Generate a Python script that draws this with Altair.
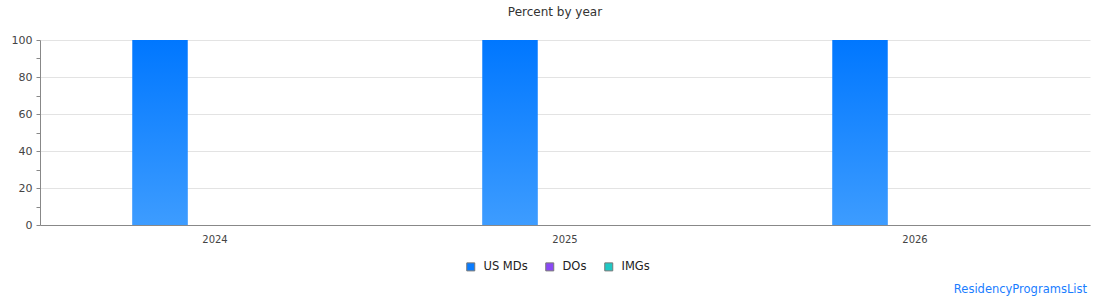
import altair as alt
import pandas as pd

# Share of matched applicants by year and applicant group
years = ["2024", "2025", "2026"]
groups = ["US MDs", "DOs", "IMGs"]
us_mds = [100, 100, 100]
dos = [0, 0, 0]
imgs = [0, 0, 0]
group_colors = ["#0a7cff", "#8a48f5", "#1fc8c4"]

rows = []
for i, y in enumerate(years):
    for g, vals in zip(groups, [us_mds, dos, imgs]):
        rows.append({"year": y, "group": g, "percent": vals[i]})
df = pd.DataFrame(rows)

W, H = 1050, 185
FONT = "DejaVu Sans"

x_enc = alt.X(
    "year:N",
    sort=years,
    scale=alt.Scale(paddingInner=0.5286, paddingOuter=0.2643),
    axis=alt.Axis(
        title=None, labelAngle=0, ticks=False, labelPadding=9,
        labelFontSize=10, labelColor="#444", domainColor="#888",
        labelFont=FONT,
    ),
)
xoff_enc = alt.XOffset("group:N", sort=groups)
y_enc = alt.Y(
    "percent:Q",
    scale=alt.Scale(domain=[0, 100], nice=False),
    axis=alt.Axis(
        title=None,
        values=list(range(0, 101, 10)),
        labelExpr="datum.value % 20 == 0 ? datum.label : ''",
        gridOpacity={"condition": {"test": "datum.value % 20 == 0", "value": 1}, "value": 0},
        gridColor="#e3e3e3",
        tickSize=4, tickColor="#888", domainColor="#888",
        labelFontSize=11, labelColor="#444", labelPadding=4, labelFont=FONT,
    ),
)

base = alt.Chart(df)

legend_bars = base.mark_bar().encode(
    x=x_enc,
    xOffset=xoff_enc,
    y=y_enc,
    fill=alt.Fill(
        "group:N",
        sort=groups,
        scale=alt.Scale(domain=groups, range=group_colors),
        legend=alt.Legend(
            title=None, orient="none", direction="horizontal",
            legendX=425, legendY=221, padding=0,
            symbolType="square", symbolSize=64,
            symbolStrokeColor="#777", symbolStrokeWidth=1,
            labelFontSize=11.5, labelColor="#222", labelFont=FONT,
            labelOffset=7, columnPadding=15,
        ),
    ),
)

gradient = alt.Gradient(
    gradient="linear",
    stops=[
        alt.GradientStop(color="#0077ff", offset=0),
        alt.GradientStop(color="#3d9cff", offset=1),
    ],
    x1=0, x2=0, y1=0, y2=1,
)

mds_bars = base.transform_filter(alt.datum.group == "US MDs").mark_bar(fill=gradient).encode(
    x=x_enc,
    xOffset=xoff_enc,
    y=y_enc,
)

credit = alt.Chart(pd.DataFrame({"t": ["ResidencyProgramsList"]})).mark_text(
    align="right", baseline="middle", fontSize=11.5, color="#1a7dff", font=FONT,
).encode(
    text="t:N",
    x=alt.value(1047),
    y=alt.value(250),
)

chart = alt.layer(legend_bars, mds_bars, credit).properties(
    width=W,
    height=H,
    title=alt.TitleParams(
        "Percent by year", fontSize=12, fontWeight="normal", color="#333",
        font=FONT, anchor="middle", dx=-10, offset=15,
    ),
    padding={"left": 40, "top": 40, "right": 20, "bottom": 75},
    autosize=alt.AutoSizeParams(type="none"),
).configure_view(stroke=None)

chart.save("out.html", embed_options={"renderer": "svg", "actions": False})
